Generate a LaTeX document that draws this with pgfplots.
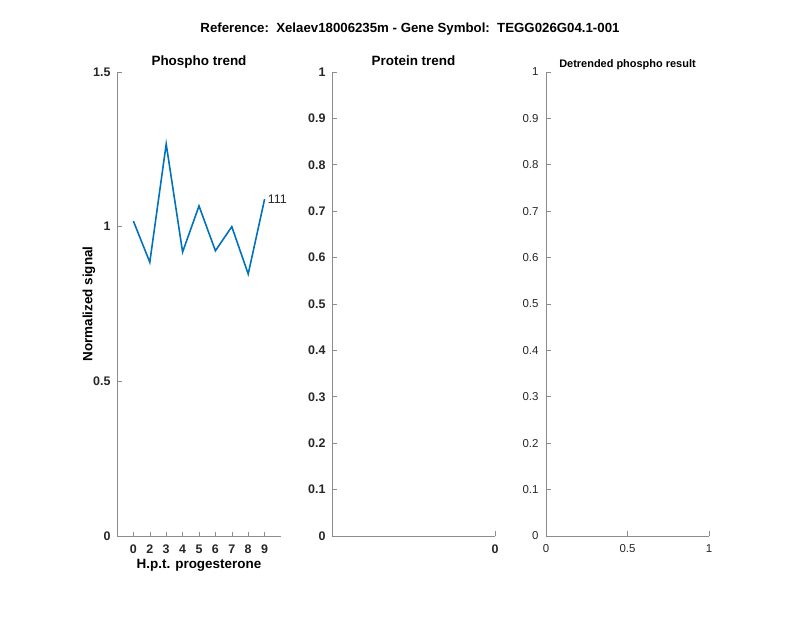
\documentclass[border=0pt]{standalone}
\usepackage{fontspec}
\setmainfont{Liberation Sans}
\usepackage{pgfplots}
\pgfplotsset{compat=1.18}
\definecolor{mblue}{RGB}{0,114,189}
\definecolor{axgray}{RGB}{140,140,140}
\definecolor{txtgray}{RGB}{38,38,38}
\pgfplotsset{mstyle/.style={
  scale only axis, clip=false,
  axis x line*=bottom, axis y line*=left,
  axis line style={axgray, line width=0.6pt},
  every tick/.style={axgray, line width=0.6pt},
  tick align=inside, major tick length=4.5bp,
  /pgf/number format/assume math mode=true,
  tick label style={text=txtgray, font=\bfseries\fontsize{12.5}{13}\selectfont},
  xticklabel style={yshift=-5bp},
  yticklabel style={xshift=-3bp},
  title style={font=\bfseries\fontsize{13.5}{14}\selectfont, at={(0.5,1)}, anchor=base, yshift=1bp},
  label style={font=\bfseries\fontsize{13.5}{14}\selectfont},
  width=164bp, height=464bp,
}}
\begin{document}
\begin{tikzpicture}
\path[use as bounding box] (0,0) rectangle (800bp,618bp);
\node[font=\bfseries\fontsize{13.3}{14}\selectfont] at (410bp,589bp) {Reference:\ \ Xelaev18006235m - Gene Symbol:\ \ TEGG026G04.1-001};
\begin{axis}[mstyle, at={(117bp,82bp)}, anchor=south west,
  xmin=0, xmax=10, ymin=0, ymax=1.5,
  xtick={1,2,3,4,5,6,7,8,9}, xticklabels={0,2,3,4,5,6,7,8,9},
  ytick={0,0.5,1,1.5},
  yticklabel style={/pgf/number format/fixed},
  title={Phospho trend},
  xlabel={H.p.t. progesterone}, ylabel={Normalized signal},
  xlabel style={yshift=1bp}, ylabel style={yshift=-9bp}]
\addplot[mblue, line width=1.6pt] coordinates {
(1,1.018) (2,0.885) (3,1.267) (4,0.918) (5,1.067) (6,0.922) (7,1.000) (8,0.847) (9,1.089)};
\node[anchor=west, font=\fontsize{12.5}{13}\selectfont, text=txtgray, inner sep=3bp] at (axis cs:9,1.089) {111};
\end{axis}
\begin{axis}[mstyle, at={(332bp,82bp)}, anchor=south west, width=163bp,
  xmin=-1, xmax=0, ymin=0, ymax=1,
  xtick={0}, ytick={0,0.1,...,1},
  yticklabel style={/pgf/number format/fixed},
  title={Protein trend}]
\end{axis}
\begin{axis}[mstyle, at={(546bp,82bp)}, anchor=south west, width=163bp,
  xmin=0, xmax=1, ymin=0, ymax=1,
  xtick={0,0.5,1}, ytick={0,0.1,...,1},
  tick label style={text=txtgray, font=\fontsize{11.5}{12}\selectfont},
  yticklabel style={/pgf/number format/fixed, xshift=-1bp},
  xticklabel style={/pgf/number format/fixed},
  title style={font=\bfseries\fontsize{11}{12}\selectfont, yshift=-2bp},
  title={Detrended phospho result}]
\end{axis}
\end{tikzpicture}
\end{document}
